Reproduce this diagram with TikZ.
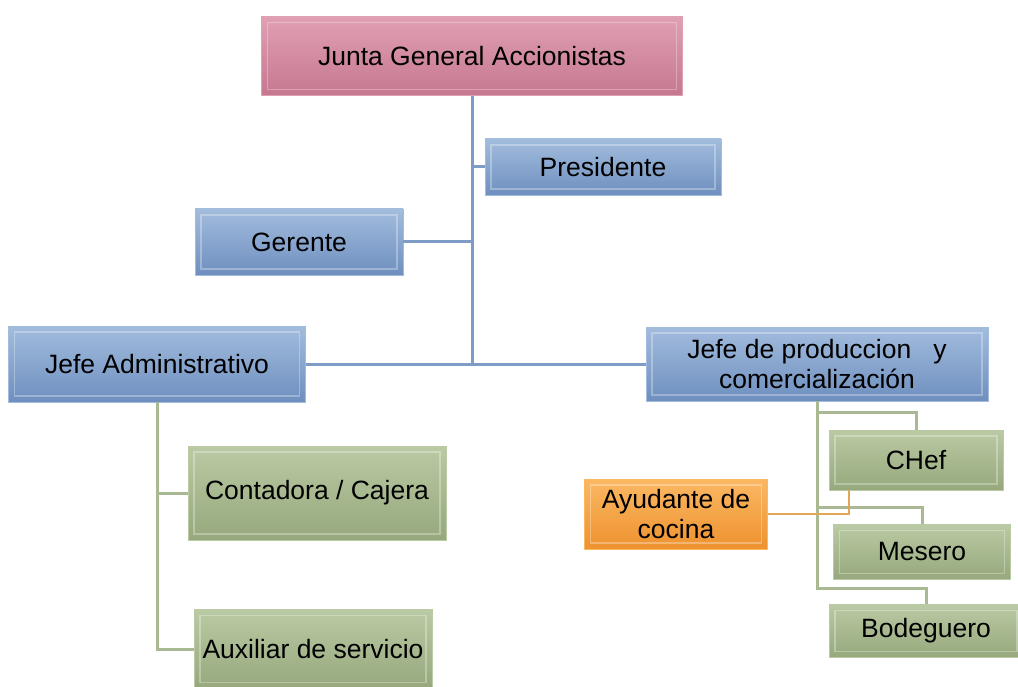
\documentclass[tikz,border=0pt]{standalone}
\usepackage{fontspec}
\setmainfont{Liberation Sans}
\usetikzlibrary{positioning}
\definecolor{azulA}{HTML}{A2BCDD}
\definecolor{azulB}{HTML}{6E8FBF}
\definecolor{azulL}{HTML}{7F9CC7}
\definecolor{rosaA}{HTML}{E0A0B4}
\definecolor{rosaB}{HTML}{C67790}
\definecolor{verdeA}{HTML}{BACAA4}
\definecolor{verdeB}{HTML}{96A87C}
\definecolor{verdeL}{HTML}{A9B993}
\definecolor{naranjaA}{HTML}{FBB863}
\definecolor{naranjaB}{HTML}{EE922F}
\tikzset {
    x=1pt, y=-1pt,
    caja/.style={rectangle, inner sep=0pt, align=center,
        font=\fontsize{26.5}{30}\selectfont,
        path picture={\draw[white, opacity=0.3, line width=1.2pt]
            ([shift={(6pt,-6pt)}]path picture bounding box.north west) rectangle
            ([shift={(-6pt,6pt)}]path picture bounding box.south east);}},
    azul/.style={caja, top color=azulA, bottom color=azulB, draw=azulA},
    rosa/.style={caja, top color=rosaA, bottom color=rosaB, draw=rosaA},
    verde/.style={caja, top color=verdeA, bottom color=verdeB, draw=verdeA},
    naranja/.style={caja, top color=naranjaA, bottom color=naranjaB, draw=naranjaA},
    linea azul/.style={draw=azulL, line width=3pt},
    linea verde/.style={draw=verdeL, line width=3pt},
    linea naranja/.style={draw=naranjaA!90!black, line width=2.8pt}
}
\begin{document}
\begin{tikzpicture}
    \useasboundingbox (0,0) rectangle (1018,687);

    \node[rosa, minimum width=421pt, minimum height=79pt] (junta) at (472,56) {Junta General Accionistas};
    \node[azul, minimum width=236pt, minimum height=56pt] (pres) at (603,167) {Presidente};
    \node[azul, minimum width=208pt, minimum height=66pt] (ger) at (299,242) {Gerente};
    \node[azul, minimum width=297pt, minimum height=76pt] (jadm) at (157,364) {Jefe Administrativo};
    \node[azul, minimum width=342pt, minimum height=74pt] (jprod) at (817,364) {Jefe de produccion\ \ \ y\\comercialización};

    \node[verde, minimum width=258pt, minimum height=94pt] (conta) at (317,493) {Contadora / Cajera};
    \node[verde, minimum width=238pt, minimum height=79pt] (aux) at (313,649) {Auxiliar de servicio};

    \node[verde, minimum width=174pt, minimum height=60pt] (chef) at (916,460) {CHef};
    \node[verde, minimum width=177pt, minimum height=55pt] (mes) at (922,552) {Mesero};
    \node[verde, minimum width=194pt, minimum height=53pt] (bod) at (926,631) {Bodeguero};
    \node[naranja, minimum width=183pt, minimum height=70pt] (ayud) at (676,514) {Ayudante de\\cocina};

    % lineas de mando
    \begin{scope}[on background layer/.try]
    \draw[linea azul] (junta.south) -- (junta.south |- jadm.east);
    \draw[linea azul] (jadm.east) -- (jprod.west);
    \draw[linea azul] (pres.west) -- (pres.west -| junta.south);
    \draw[linea azul] (ger.east) -- (ger.east -| junta.south);

    \draw[linea verde] (jadm.south) |- (conta.west);
    \draw[linea verde] (jadm.south) |- (aux.west);

    \draw[linea verde] (jprod.south) |- ([yshift=16pt]bod.north) -| (bod.north);
    \draw[linea verde] (jprod.south) |- ([yshift=17pt]chef.north) -| (chef.north);
    \draw[linea verde] (jprod.south) |- ([yshift=17pt]mes.north) -| (mes.north);

    \draw[linea naranja] ([xshift=-67pt]chef.south) |- (ayud.east);
    \end{scope}
\end{tikzpicture}
\end{document}
